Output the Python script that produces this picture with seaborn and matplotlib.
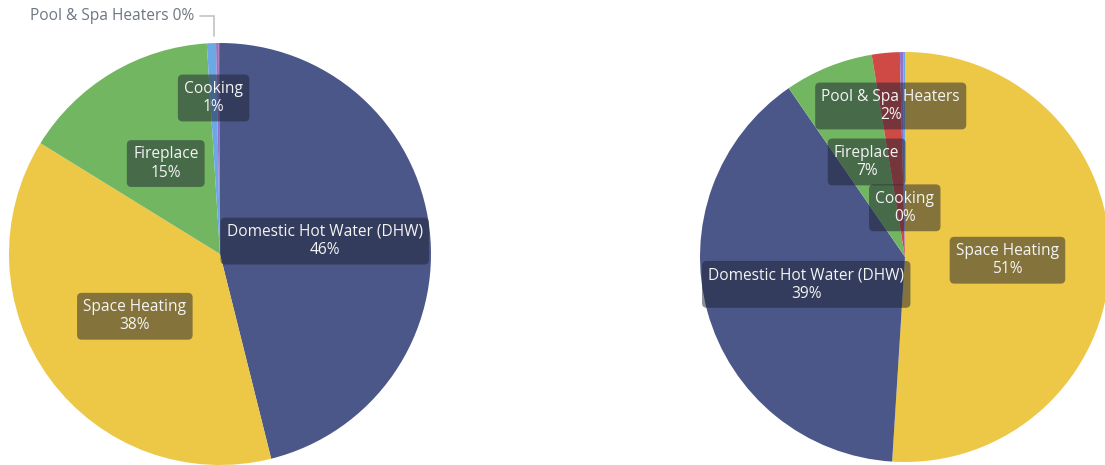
import numpy as np
import matplotlib
matplotlib.use("Agg")
import matplotlib.pyplot as plt
import seaborn as sns

# Energy end-use shares (%) for two buildings
categories = ["Domestic Hot Water (DHW)", "Space Heating", "Fireplace",
              "Cooking", "Other", "Pool & Spa Heaters"]
left_values = [46.1, 37.7, 15.2, 0.7, 0.2, 0.1]
right_values = [39.4, 51.0, 7.0, 0.15, 0.25, 2.2]

colors = {
    "Domestic Hot Water (DHW)": "#4a5788",
    "Space Heating": "#ecc846",
    "Fireplace": "#72b661",
    "Cooking": "#6ca8e4",
    "Other": "#8f74cc",
    "Pool & Spa Heaters": "#d04a45",
}
hidden_labels = {"Other"}

# label placement: radial fraction of the radius; "out" = outside with leader
left_label_r = {"Domestic Hot Water (DHW)": 0.5, "Space Heating": 0.5,
                "Fireplace": 0.5, "Cooking": 0.74, "Pool & Spa Heaters": "out"}
right_label_r = {"Domestic Hot Water (DHW)": 0.5, "Space Heating": 0.5,
                 "Fireplace": 0.5, "Cooking": 0.24, "Pool & Spa Heaters": 0.74}

sns.set_theme(style="white")
plt.rcParams["font.family"] = ["Open Sans", "DejaVu Sans"]

W, H = 1105, 465
FS = 11.2
fig = plt.figure(figsize=(W / 100, H / 100), dpi=100)
ax = fig.add_axes([0, 0, 1, 1])

box_style = dict(boxstyle="round,pad=0.4,rounding_size=0.3",
                 fc="#1e2232", ec="none", alpha=0.5)


def draw_pie(values, center, radius, label_r):
    order = sorted(range(len(values)), key=lambda i: -values[i])
    cats = [categories[i] for i in order]
    vals = [values[i] for i in order]
    ax.pie(vals, colors=[colors[c] for c in cats], startangle=90,
           counterclock=False, center=center, radius=radius,
           wedgeprops=dict(linewidth=0))
    total = sum(vals)
    start = 0.0
    for cat, v in zip(cats, vals):
        mid = start + v / total * 360 / 2
        start += v / total * 360
        if cat in hidden_labels:
            continue
        theta = np.deg2rad(mid)
        dx, dy = np.sin(theta), np.cos(theta)
        pct = f"{round(v)}%"
        rf = label_r[cat]
        if rf == "out":
            x0 = center[0] + dx * radius * 1.0 - 5
            y0 = center[1] + dy * radius * 1.02 + 3
            ytop = center[1] + radius + 27
            ax.plot([x0, x0, x0 - 14], [y0, ytop, ytop], color="#c4c8cc",
                    lw=1.3, solid_joinstyle="miter")
            ax.text(x0 - 20, ytop, f"{cat} {pct}", ha="right", va="center",
                    fontsize=FS, color="#6e7681")
        else:
            x = center[0] + dx * radius * rf
            y = center[1] + dy * radius * rf
            ax.text(x, y, f"{cat}\n{pct}", ha="center", va="center",
                    multialignment="center", fontsize=FS, color="#f4f4f4",
                    linespacing=1.2, bbox=box_style)


draw_pie(left_values, (220, H - 254), 211, left_label_r)
draw_pie(right_values, (905, H - 257), 205, right_label_r)

ax.set_xlim(0, W)
ax.set_ylim(0, H)
ax.set_aspect("equal")
ax.axis("off")

fig.savefig("out.png", dpi=100)
